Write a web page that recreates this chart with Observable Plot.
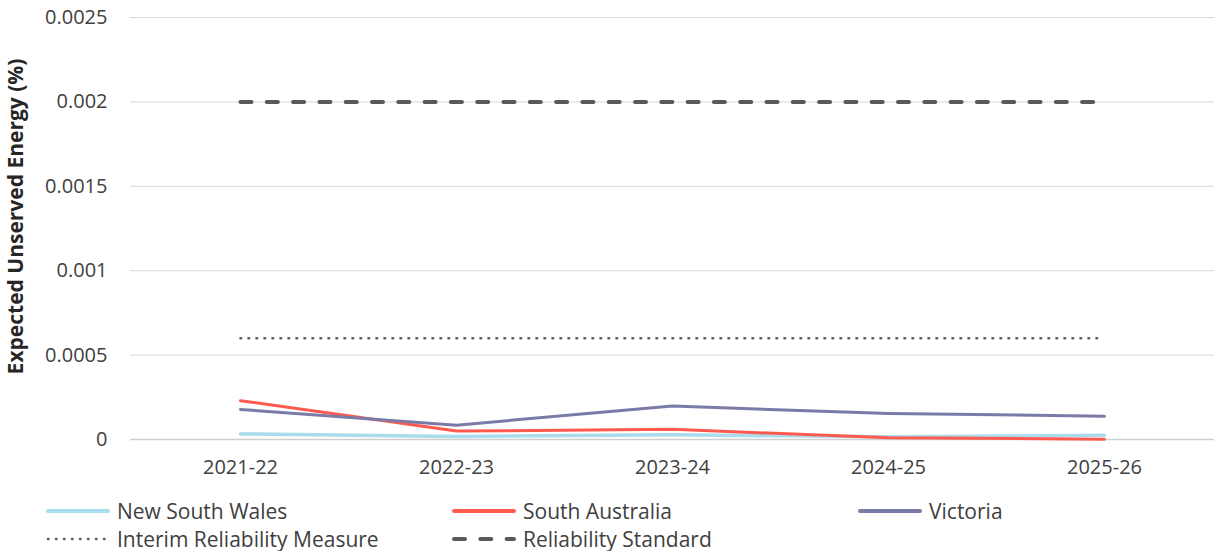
<!DOCTYPE html>
<html>
<head>
<meta charset="utf-8">
<script src="https://cdn.jsdelivr.net/npm/d3@7"></script>
<script src="https://cdn.jsdelivr.net/npm/@observablehq/plot@0.6"></script>
<style>
  body { margin: 0; background: #fff; font-family: "Open Sans", "Noto Sans", sans-serif; }
  #chart svg { display: block; }
  #chart g[aria-label="y-axis tick label"] text,
  #chart g[aria-label="x-axis tick label"] text { font-size: 20px; fill: #404040; }
  #chart g[aria-label="y-axis label"] text { font-weight: bold; font-size: 21px; fill: #262626; }
  .legend { display: grid; grid-template-columns: 406px 406px 406px; padding-left: 46px; row-gap: 3px; margin-top: 8px; color: #404040; font-size: 21px; }
  .item { display: flex; align-items: center; height: 25px; }
</style>
</head>
<body>
<div id="chart"></div>
<div class="legend" id="legend"></div>
<script>
const categories = ["2021-22", "2022-23", "2023-24", "2024-25", "2025-26"];
const nswValues = [0.000033, 0.000018, 0.000028, 0.000016, 0.000025];
const saValues = [0.00023, 0.00005, 0.00006, 0.00001, 0.000002];
const vicValues = [0.000178, 0.000085, 0.000198, 0.000154, 0.000138];
const interimValue = 0.0006;
const standardValue = 0.002;
const yTicks = [0, 0.0005, 0.001, 0.0015, 0.002, 0.0025];
const yTickLabels = ["0", "0.0005", "0.001", "0.0015", "0.002", "0.0025"];

const series = (vals) => categories.map((c, i) => ({x: c, y: vals[i]}));
const constant = (v) => categories.map(c => ({x: c, y: v}));

const chart = Plot.plot({
  width: 1214,
  height: 490,
  marginTop: 17,
  marginBottom: 51,
  marginLeft: 130,
  marginRight: 0,
  style: { fontFamily: '"Open Sans", "Noto Sans", sans-serif', color: "#404040" },
  x: { type: "point", domain: categories, padding: 0.5, label: null },
  y: { domain: [0, 0.0025], label: null },
  marks: [
    Plot.gridY(yTicks.slice(1), { stroke: "#d9d9d9", strokeOpacity: 1, strokeWidth: 1 }),
    Plot.ruleY([0], { stroke: "#d0d0d0", strokeWidth: 1.5 }),
    Plot.axisY(yTicks, {
      tickSize: 0, tickPadding: 23,
      tickFormat: (d) => yTickLabels[yTicks.indexOf(d)],
      label: "Expected Unserved Energy (%)", labelAnchor: "center", labelArrow: "none", labelOffset: 122
    }),
    Plot.axisX({ tickSize: 0, tickPadding: 20, label: null }),
    Plot.line(series(nswValues), { x: "x", y: "y", stroke: "#a9dcec", strokeWidth: 3.5 }),
    Plot.line(series(saValues), { x: "x", y: "y", stroke: "#ff5a50", strokeWidth: 3 }),
    Plot.line(series(vicValues), { x: "x", y: "y", stroke: "#7a7ba8", strokeWidth: 3 }),
    Plot.line(constant(interimValue), { x: "x", y: "y", stroke: "#595959", strokeWidth: 2.6, strokeDasharray: "0.5,7.5", strokeLinecap: "round" }),
    Plot.line(constant(standardValue), { x: "x", y: "y", stroke: "#595959", strokeWidth: 4, strokeDasharray: "11,15.3", strokeLinecap: "round" })
  ]
});
const labelG = chart.querySelector('g[aria-label="y-axis label"]');
if (labelG) labelG.setAttribute("transform", "translate(0,-12) " + (labelG.getAttribute("transform") || ""));
document.getElementById("chart").appendChild(chart);

const legendItems = [
  { name: "New South Wales", color: "#a9dcec", dash: "solid" },
  { name: "South Australia", color: "#ff5a50", dash: "solid" },
  { name: "Victoria", color: "#7a7ba8", dash: "solid" },
  { name: "Interim Reliability Measure", color: "#595959", dash: "dotted" },
  { name: "Reliability Standard", color: "#595959", dash: "dashed" }
];
const lg = document.getElementById("legend");
legendItems.forEach(it => {
  const d = document.createElement("div");
  d.className = "item";
  const ns = "http://www.w3.org/2000/svg";
  const sw = document.createElementNS(ns, "svg");
  sw.setAttribute("width", 64); sw.setAttribute("height", 8);
  sw.style.marginRight = "7px";
  const ln = document.createElementNS(ns, "line");
  ln.setAttribute("x1", 2); ln.setAttribute("x2", 62); ln.setAttribute("y1", 4); ln.setAttribute("y2", 4);
  ln.setAttribute("stroke", it.color);
  ln.setAttribute("stroke-linecap", "round");
  if (it.dash === "dashed") { ln.setAttribute("stroke-width", 4); ln.setAttribute("stroke-dasharray", "11,15.3"); }
  else if (it.dash === "dotted") { ln.setAttribute("stroke-width", 2.4); ln.setAttribute("stroke-dasharray", "0.5,7.5"); }
  else { ln.setAttribute("stroke-width", 4); }
  sw.appendChild(ln);
  const t = document.createElement("span");
  t.textContent = it.name;
  d.appendChild(sw); d.appendChild(t);
  lg.appendChild(d);
});
</script>
</body>
</html>
